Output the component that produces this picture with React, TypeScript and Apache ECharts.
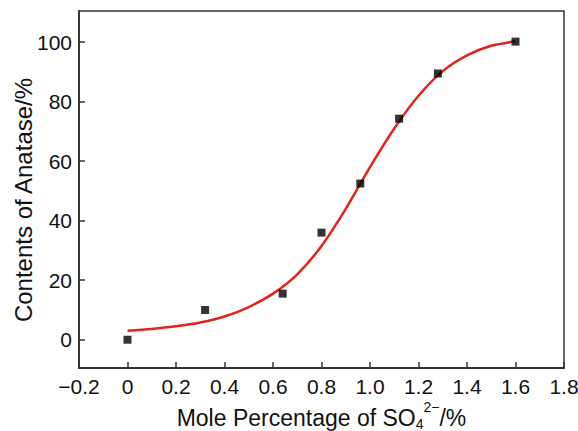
import React, { useEffect, useRef } from "react";
import * as echarts from "echarts";

const pointX = [0, 0.32, 0.64, 0.8, 0.96, 1.12, 1.28, 1.6];
const pointY = [0, 10, 15.5, 36, 52.5, 74.3, 89.5, 100.2];

const curveX = [0, 0.1, 0.2, 0.3, 0.4, 0.5, 0.6, 0.7, 0.8, 0.9, 1.0, 1.1, 1.2, 1.3, 1.4, 1.5, 1.6];
const curveY = [3.0, 3.6, 4.5, 5.8, 7.8, 11, 15.5, 22, 31.5, 44, 58, 71, 82, 90.3, 95.6, 98.8, 100.3];

const yTicks = [0, 20, 40, 60, 80, 100];

const FONT = "'Liberation Sans', Arial, sans-serif";
const AXIS_COLOR = "#333";
const TEXT_COLOR = "#111";

export default function App() {
  const ref = useRef<HTMLDivElement>(null);
  useEffect(() => {
    if (!ref.current) return;
    const chart = echarts.init(ref.current, null, { renderer: "svg" });
    chart.setOption({
      animation: false,
      backgroundColor: "#fff",
      grid: {
        left: 79,
        right: 14,
        top: 11,
        bottom: 63,
        containLabel: false,
        outerBoundsMode: "none",
        show: true,
        borderColor: AXIS_COLOR,
        borderWidth: 1.5,
        backgroundColor: "transparent",
      },
      xAxis: {
        type: "value",
        min: -0.2,
        max: 1.8,
        interval: 0.2,
        splitLine: { show: false },
        axisLine: { show: true, onZero: false, lineStyle: { color: AXIS_COLOR, width: 1.8 } },
        axisTick: { show: true, inside: true, length: 6, lineStyle: { color: AXIS_COLOR, width: 1.5 } },
        axisLabel: {
          margin: 8,
          fontSize: 21,
          fontFamily: FONT,
          color: TEXT_COLOR,
          formatter: (v: number) => {
            const r = Math.round(v * 10) / 10;
            if (r === 0) return "0";
            return (r < 0 ? "\u2212" : "") + Math.abs(r).toFixed(1);
          },
        },
        name: "{b|Mole Percentage of SO}{sub|4}{sup|2\u2212}{b|/%}",
        nameLocation: "middle",
        nameGap: 39,
        nameMoveOverlap: false,
        nameTextStyle: {
          fontFamily: FONT,
          color: TEXT_COLOR,
          rich: {
            b: { fontSize: 23, fontFamily: FONT, color: TEXT_COLOR, lineHeight: 22, verticalAlign: "middle" },
            sub: { fontSize: 14, fontFamily: FONT, color: TEXT_COLOR, lineHeight: 13, padding: [12, 0, 0, 0], verticalAlign: "middle" },
            sup: { fontSize: 14, fontFamily: FONT, color: TEXT_COLOR, lineHeight: 13, padding: [0, 0, 23, 0], verticalAlign: "middle" },
          },
        },
      },
      yAxis: {
        type: "value",
        min: -9.5,
        max: 110.5,
        splitLine: { show: false },
        axisLine: { show: true, onZero: false, lineStyle: { color: AXIS_COLOR, width: 1.8 } },
        axisTick: { show: true, inside: true, length: 6, customValues: yTicks, lineStyle: { color: AXIS_COLOR, width: 1.5 } },
        axisLabel: {
          margin: 7,
          fontSize: 21,
          fontFamily: FONT,
          color: TEXT_COLOR,
          customValues: yTicks,
        },
        name: "Contents of Anatase/%",
        nameLocation: "middle",
        nameGap: 44,
        nameMoveOverlap: false,
        nameTextStyle: { fontSize: 24, fontFamily: FONT, color: TEXT_COLOR, padding: [0, 21, 0, 0] },
      },
      series: [
        {
          type: "line",
          data: curveX.map((x, i) => [x, curveY[i]]),
          smooth: 0.3,
          showSymbol: false,
          lineStyle: { color: "#e3231c", width: 2.5 },
          z: 2,
        },
        {
          type: "scatter",
          data: pointX.map((x, i) => [x, pointY[i]]),
          symbol: "rect",
          symbolSize: 8,
          itemStyle: { color: "#000" },
          z: 3,
        },
      ],
    });
    return () => chart.dispose();
  }, []);
  return <div ref={ref} style={{ width: 578, height: 431, position: "absolute", left: 0, top: 0 }} />;
}
